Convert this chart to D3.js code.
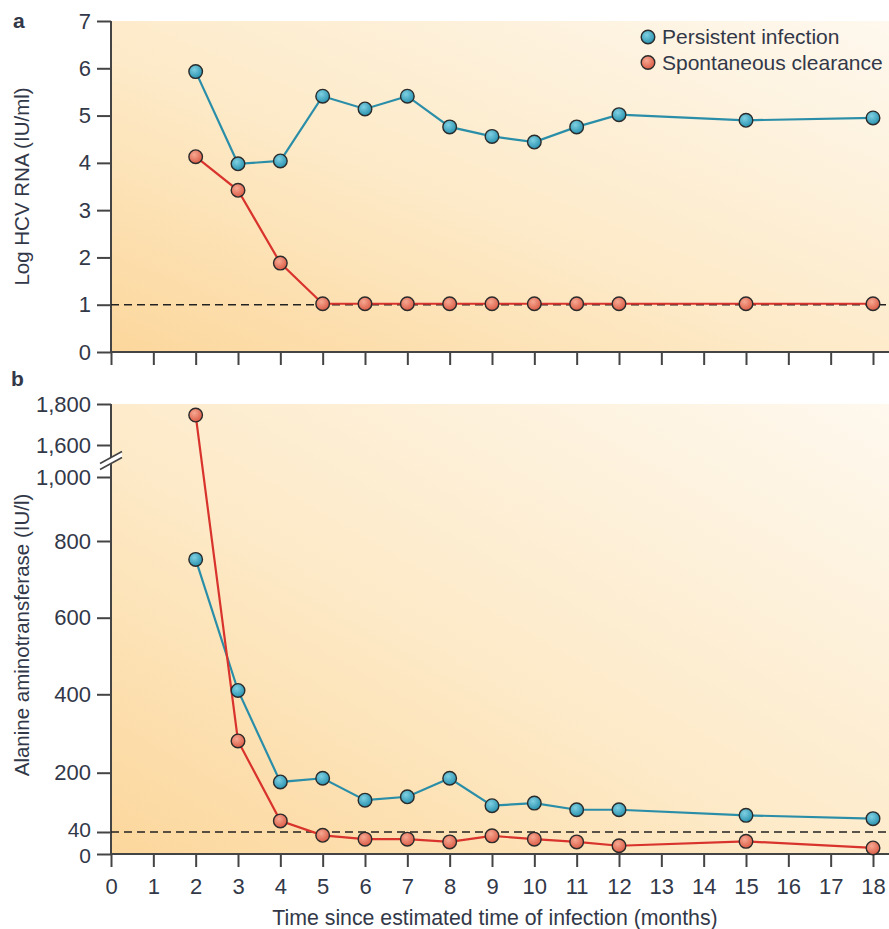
<!DOCTYPE html>
<html>
<head>
<meta charset="utf-8">
<script src="https://cdn.jsdelivr.net/npm/d3@7"></script>
<style>
  body { margin: 0; background: #fff; }
  svg text { font-family: "Liberation Sans", Arial, sans-serif; fill: #323848; }
</style>
</head>
<body>
<div id="chart"></div>
<script>
// months since estimated time of infection
var months = [2, 3, 4, 5, 6, 7, 8, 9, 10, 11, 12, 15, 18];

// a: log HCV RNA (IU/ml)
var rnaPersistent = [5.93, 3.98, 4.04, 5.41, 5.14, 5.41, 4.76, 4.56, 4.44, 4.76, 5.02, 4.90, 4.95];
var rnaClearance = [4.13, 3.42, 1.88, 1.02, 1.02, 1.02, 1.02, 1.02, 1.02, 1.02, 1.02, 1.02, 1.02];

// b: alanine aminotransferase (IU/l)
var altPersistent = [752, 410, 175, 185, 126, 135, 185, 111, 118, 100, 100, 85, 76];
var altClearance = [1746, 281, 70, 34, 27, 27, 22, 33, 27, 22, 15, 23, 11];

var xTicks = d3.range(0, 19);
var rnaTicks = [0, 1, 2, 3, 4, 5, 6, 7];
var altTicks = [0, 40, 200, 400, 600, 800, 1000, 1600, 1800];
var rnaLimit = 1;
var altLimit = 40;

var seriesNames = ["Persistent infection", "Spontaneous clearance"];

var W = 889, H = 929;
var left = 111, right = 889;
var aTop = 21, aBottom = 352;
var bTop = 404, bBottom = 854;

var svg = d3.select("#chart").append("svg").attr("width", W).attr("height", H);
var defs = svg.append("defs");

var bg = defs.append("linearGradient").attr("id", "bg")
  .attr("x1", 0).attr("y1", 1).attr("x2", 1).attr("y2", 0);
bg.append("stop").attr("offset", 0).attr("stop-color", "#fcd79c");
bg.append("stop").attr("offset", 0.45).attr("stop-color", "#fdeac8");
bg.append("stop").attr("offset", 1).attr("stop-color", "#fef8ee");

function ball(id, c0, c1) {
  var g = defs.append("radialGradient").attr("id", id)
    .attr("cx", 0.4).attr("cy", 0.35).attr("r", 0.65);
  g.append("stop").attr("offset", 0).attr("stop-color", c0);
  g.append("stop").attr("offset", 1).attr("stop-color", c1);
}
ball("blueBall", "#7fd0e2", "#2a93b0");
ball("redBall", "#f6a892", "#dc5d47");

var colors = [
  { line: "#2b8ea8", fill: "url(#blueBall)" },
  { line: "#d8332c", fill: "url(#redBall)" }
];

var x = d3.scaleLinear().domain([0, 18]).range([left, 873]);
var ya = d3.scaleLinear().domain([0, 7]).range([aBottom, aTop]);
// the b axis is drawn by hand in the original, with a break above 1,000
var yb = d3.scaleLinear()
  .domain(altTicks)
  .range([bBottom, 832, 772.7, 694.3, 617.7, 541, 477, 445, bTop]);

function panel(y, top, bottom, ticks, fmt, showX, limit, data) {
  var g = svg.append("g");
  g.append("rect")
    .attr("x", left).attr("y", top)
    .attr("width", right - left).attr("height", bottom - top)
    .attr("fill", "url(#bg)");

  // y axis
  var ay = g.append("g").attr("transform", "translate(" + left + ",0)")
    .call(d3.axisLeft(y).tickValues(ticks).tickFormat(fmt).tickSize(14).tickSizeOuter(0).tickPadding(6));
  ay.select(".domain").remove();
  ay.selectAll("line").attr("stroke", "#444").attr("stroke-width", 2);
  ay.selectAll("text").style("font-size", "22px").attr("fill", "#323848");

  // x axis
  var ax = g.append("g").attr("transform", "translate(0," + bottom + ")")
    .call(d3.axisBottom(x).tickValues(xTicks).tickSize(13).tickSizeOuter(0).tickPadding(11)
      .tickFormat(showX ? d3.format("d") : ""));
  ax.select(".domain").remove();
  ax.selectAll("line").attr("stroke", "#444").attr("stroke-width", 2);
  ax.selectAll("text").style("font-size", "22px").attr("fill", "#323848");

  g.append("line").attr("x1", left).attr("x2", left)
    .attr("y1", top).attr("y2", bottom + 1)
    .attr("stroke", "#444").attr("stroke-width", 2);
  g.append("line").attr("x1", left - 1).attr("x2", right)
    .attr("y1", bottom).attr("y2", bottom)
    .attr("stroke", "#444").attr("stroke-width", 2);

  // detection / normal limit
  g.append("line").attr("x1", left).attr("x2", right)
    .attr("y1", y(limit)).attr("y2", y(limit))
    .attr("stroke", "#222").attr("stroke-width", 1.6)
    .attr("stroke-dasharray", "8,5");

  var line = d3.line().x(function (d) { return x(d[0]); }).y(function (d) { return y(d[1]); });
  data.forEach(function (vals, i) {
    var pts = months.map(function (m, j) { return [m, vals[j]]; });
    g.append("path").datum(pts)
      .attr("fill", "none").attr("stroke", colors[i].line).attr("stroke-width", 2.2)
      .attr("d", line);
  });
  data.forEach(function (vals, i) {
    var pts = months.map(function (m, j) { return [m, vals[j]]; });
    g.selectAll(null).data(pts).enter().append("circle")
      .attr("cx", function (d) { return x(d[0]); })
      .attr("cy", function (d) { return y(d[1]); })
      .attr("r", 6.8)
      .attr("fill", colors[i].fill)
      .attr("stroke", "#2b2b2b").attr("stroke-width", 1.4);
  });
  return { g: g, ay: ay };
}

panel(ya, aTop, aBottom, rnaTicks, d3.format("d"), false, rnaLimit, [rnaPersistent, rnaClearance]);
var pb = panel(yb, bTop, bBottom, altTicks, d3.format(","), true, altLimit, [altPersistent, altClearance]);
var gb = pb.g;

// the 0 and 40 labels sit very close together: nudge them apart a little
pb.ay.selectAll(".tick text")
  .attr("y", function (d) { return d === 0 ? 2 : d === 40 ? -2 : 0; })
  .style("font-size", function (d) { return d <= 40 ? "21px" : "22px"; });

// axis break between 1,000 and 1,600
var by = (yb(1000) + yb(1600)) / 2;
gb.append("path")
  .attr("d", "M" + (left - 11) + "," + (by + 3) + "L" + (left + 11) + "," + (by - 9) +
    "L" + (left + 11) + "," + (by - 3) + "L" + (left - 11) + "," + (by + 9) + "Z")
  .attr("fill", "#fff");
[-0.5, 5.5].forEach(function (o) {
  gb.append("line")
    .attr("x1", left - 11).attr("y1", by + 3 + o)
    .attr("x2", left + 11).attr("y2", by - 9 + o)
    .attr("stroke", "#444").attr("stroke-width", 1.6);
});

// panel letters
svg.append("text").attr("x", 13).attr("y", 28).text("a")
  .style("font-size", "21px").style("font-weight", "bold").attr("fill", "#222");
svg.append("text").attr("x", 11).attr("y", 386).text("b")
  .style("font-size", "21px").style("font-weight", "bold").attr("fill", "#222");

// axis titles
svg.append("text")
  .attr("transform", "translate(29," + (aTop + aBottom) / 2 + ") rotate(-90)")
  .attr("text-anchor", "middle").style("font-size", "20.5px")
  .text("Log HCV RNA (IU/ml)");
svg.append("text")
  .attr("transform", "translate(29,635) rotate(-90)")
  .attr("text-anchor", "middle").style("font-size", "20.5px")
  .text("Alanine aminotransferase (IU/l)");
svg.append("text")
  .attr("x", 495).attr("y", 925)
  .attr("text-anchor", "middle").style("font-size", "21.3px")
  .text("Time since estimated time of infection (months)");

// legend
var lg = svg.append("g").attr("transform", "translate(648,37)");
seriesNames.forEach(function (name, i) {
  var row = lg.append("g").attr("transform", "translate(0," + i * 25.5 + ")");
  row.append("circle").attr("r", 6.8)
    .attr("fill", colors[i].fill).attr("stroke", "#2b2b2b").attr("stroke-width", 1.4);
  row.append("text").attr("x", 14).attr("dy", "0.35em")
    .style("font-size", "21px").text(name);
});
</script>
</body>
</html>
